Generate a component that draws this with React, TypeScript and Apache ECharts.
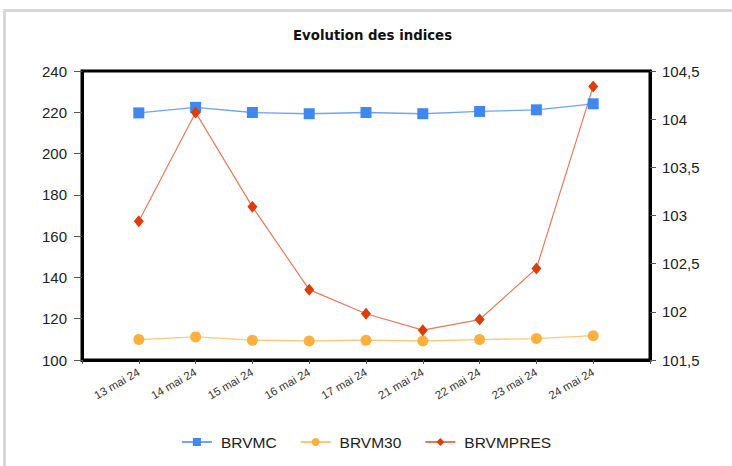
import React, { useEffect, useRef } from "react";
import * as echarts from "echarts";

const categories = ["13 mai 24", "14 mai 24", "15 mai 24", "16 mai 24", "17 mai 24", "21 mai 24", "22 mai 24", "23 mai 24", "24 mai 24"];
const brvmc = [219.7, 222.4, 219.9, 219.3, 219.9, 219.3, 220.4, 221.2, 224.1];
const brvm30 = [109.9, 111.2, 109.6, 109.2, 109.6, 109.2, 109.9, 110.4, 111.8];
const brvmpres = [102.94, 104.07, 103.09, 102.23, 101.98, 101.81, 101.92, 102.45, 104.34];
const leftTicks = { min: 100, max: 240, interval: 20 };
const rightTicks = { min: 101.5, max: 104.5, interval: 0.5 };

const FONT = "'Liberation Sans', Arial, sans-serif";

const pad = (arr: any[]) => [null, ...arr, null];

export default function App() {
  const ref = useRef<HTMLDivElement>(null);
  useEffect(() => {
    if (!ref.current) return;
    const chart = echarts.init(ref.current, undefined, { renderer: "svg" });
    const axisCats = ["", ...categories, ""];
    chart.setOption({
      animation: false,
      backgroundColor: "#ffffff",
      title: {
        text: "Evolution des indices",
        left: 293,
        top: 29,
        padding: 0,
        textStyle: { fontFamily: "'DejaVu Sans', sans-serif", fontWeight: "bold", fontSize: 13.3, color: "#111" },
      },
      graphic: [
        { type: "rect", shape: { x: 3, y: 9, width: 729, height: 3 }, style: { fill: "#d8d8d8" }, silent: true },
        { type: "rect", shape: { x: 3, y: 9, width: 3, height: 457 }, style: { fill: "#d8d8d8" }, silent: true },
      ],
      legend: {
        left: "center",
        top: 429,
        itemWidth: 30,
        itemHeight: 10,
        itemGap: 23,
        textStyle: { fontFamily: FONT, fontSize: 15.5, color: "#222", padding: [0, 0, 0, 4] },
        data: ["BRVMC", "BRVM30", "BRVMPRES"],
      },
      grid: {
        left: 82,
        right: 82,
        top: 71,
        bottom: 106,
        show: true,
        borderColor: "#000",
        borderWidth: 3,
        containLabel: false,
      },
      xAxis: {
        type: "category",
        data: axisCats,
        boundaryGap: false,
        axisLine: { show: true, lineStyle: { color: "#000", width: 3 } },
        axisTick: { show: true, length: 4, alignWithLabel: true, lineStyle: { color: "#555" } },
        axisLabel: { rotate: 30, fontFamily: FONT, fontSize: 11.5, color: "#333", margin: 11, interval: 0 },
        splitLine: { show: false },
      },
      yAxis: [
        {
          type: "value",
          min: leftTicks.min,
          max: leftTicks.max,
          interval: leftTicks.interval,
          axisLine: { show: true, lineStyle: { color: "#000", width: 3 } },
          axisTick: { show: true, length: 8, lineStyle: { color: "#555" } },
          axisLabel: { fontFamily: FONT, fontSize: 15, color: "#222", margin: 15 },
          splitLine: { show: false },
        },
        {
          type: "value",
          position: "right",
          min: rightTicks.min,
          max: rightTicks.max,
          interval: rightTicks.interval,
          axisLine: { show: true, lineStyle: { color: "#000", width: 3 } },
          axisTick: { show: true, length: 6, lineStyle: { color: "#555" } },
          axisLabel: {
            fontFamily: FONT,
            fontSize: 15,
            color: "#222",
            margin: 12,
            formatter: (v: number) => String(v).replace(".", ","),
          },
          splitLine: { show: false },
        },
      ],
      series: [
        {
          name: "BRVMC",
          type: "line",
          yAxisIndex: 0,
          data: pad(brvmc),
          symbol: "rect",
          symbolSize: 11,
          itemStyle: { color: "#3f88f0" },
          lineStyle: { color: "#6fa5ef", width: 1.3 },
        },
        {
          name: "BRVM30",
          type: "line",
          yAxisIndex: 0,
          data: pad(brvm30),
          symbol: "circle",
          symbolSize: 11,
          itemStyle: { color: "#fdb03d" },
          lineStyle: { color: "#fcc878", width: 1.3 },
        },
        {
          name: "BRVMPRES",
          type: "line",
          yAxisIndex: 1,
          data: pad(brvmpres),
          symbol: "diamond",
          symbolSize: [10, 12],
          itemStyle: { color: "#dd3d0b" },
          lineStyle: { color: "#e8795a", width: 1.2 },
        },
      ],
    });
    return () => chart.dispose();
  }, []);
  return <div ref={ref} style={{ position: "fixed", left: 0, top: 0, width: 732, height: 466 }} />;
}
